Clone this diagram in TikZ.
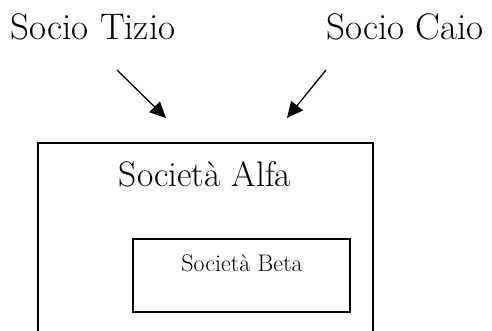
\documentclass[tikz,border=0pt]{standalone}
\usepackage{tikz}
\usetikzlibrary{arrows.meta,positioning}

\begin{document}
\begin{tikzpicture}[x=1pt,y=-1pt,
    every node/.style={inner sep=0pt,outer sep=0pt},
    socio/.style={anchor=base,font=\fontsize{37}{42}\selectfont},
    titolo/.style={anchor=base,font=\fontsize{35.5}{40}\selectfont},
    bigbox/.style={draw,line width=1.6pt,anchor=north west},
    smallbox/.style={draw,line width=1.6pt,anchor=north west},
    quota/.style={line width=1.3pt,-{Triangle[length=16pt,width=15pt]}}
    ]
    \useasboundingbox (0,0) rectangle (492,331);
    \clip (0,0) rectangle (492,331);

    % the partners
    \node (tizio) [socio] at (93,40) {Socio Tizio};
    \node (caio) [socio] at (405,40) {Socio Caio};

    % the companies
    \node (alfa) [bigbox,minimum width=335pt,minimum height=220pt] at (38,143) {};
    \node (alfatxt) [titolo] at (205,186) {Società Alfa};
    \node (beta) [smallbox,minimum width=217pt,minimum height=73pt] at (133,239) {};
    \node (betatxt) [anchor=base,font=\fontsize{24}{28}\selectfont] at (242,271) {Società Beta};

    % the arrows
    \coordinate (tiziofrom) at (117,70);
    \coordinate (tizioto) at (166,118);
    \coordinate (caiofrom) at (326,70);
    \coordinate (caioto) at (287,118);
    \draw[quota] (tiziofrom) -- (tizioto);
    \draw[quota] (caiofrom) -- (caioto);
\end{tikzpicture}
\end{document}
